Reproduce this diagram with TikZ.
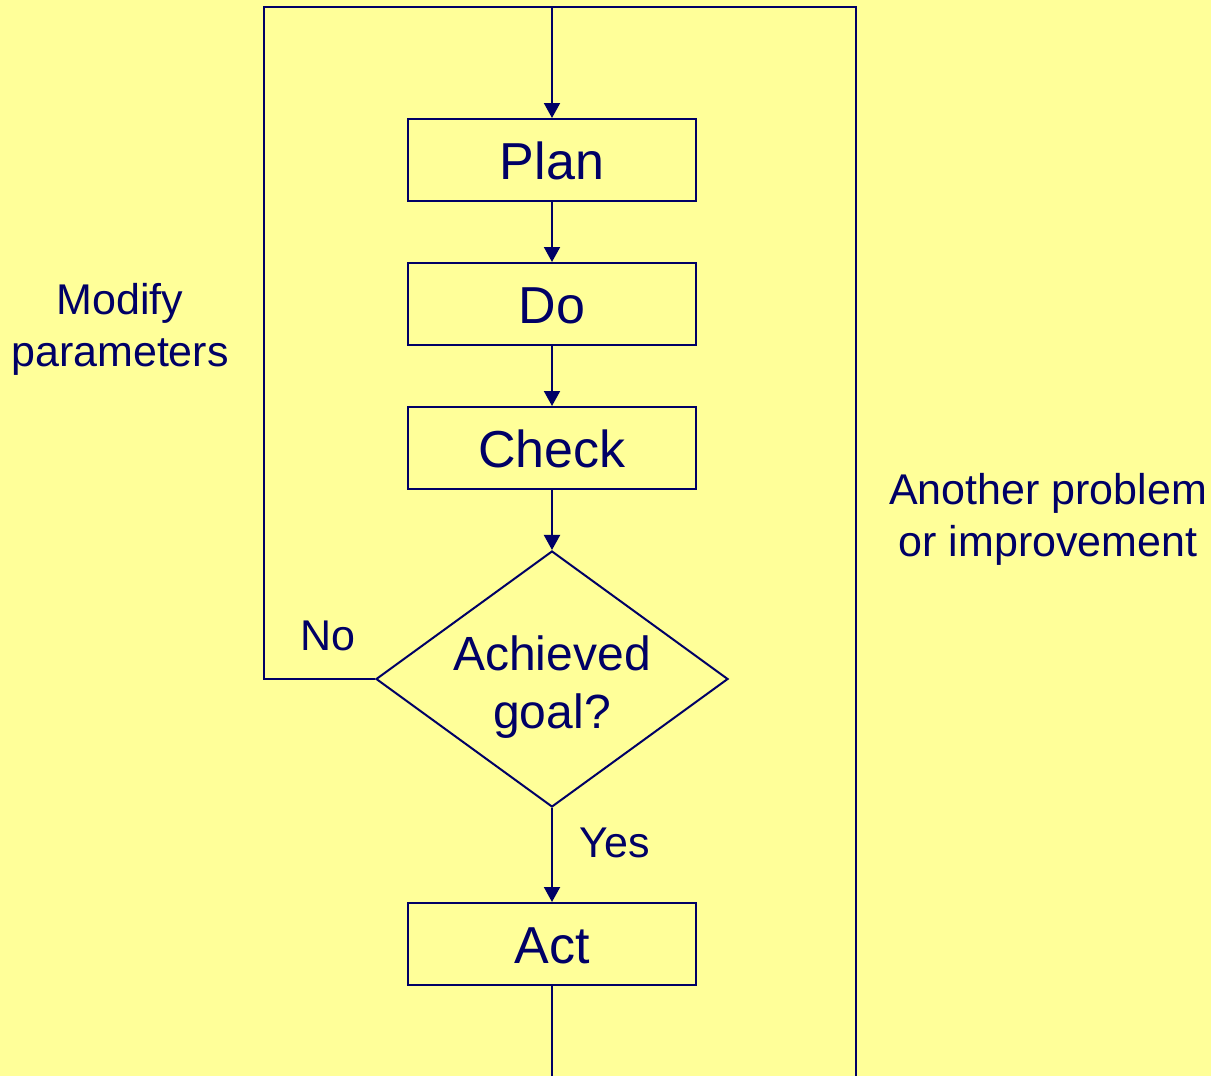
\documentclass[tikz,border=0pt]{standalone}
\usepackage{fontspec}
\setmainfont{Liberation Sans}
\usetikzlibrary{shapes.geometric,arrows.meta}
\definecolor{bg}{RGB}{255,255,153}
\definecolor{ink}{RGB}{0,0,102}
\begin{document}
\begin{tikzpicture}[x=1pt,y=-1pt,line width=2pt,color=ink,
  box/.style={draw=ink, rectangle, minimum width=288pt, minimum height=82pt, inner sep=0pt,
    font=\fontsize{52}{62}\selectfont, text height=39pt, text depth=0pt},
  dia/.style={draw=ink, diamond, minimum width=352pt, minimum height=256pt, inner sep=0pt},
  lbl/.style={inner sep=0pt, font=\fontsize{43}{52}\selectfont, anchor=base},
  dtext/.style={inner sep=0pt, font=\fontsize{48}{58}\selectfont, anchor=base},
  arr/.style={-{Triangle[width=16pt,length=15pt]}}]
\useasboundingbox (0,0) rectangle (1211,1076);
\fill[bg] (0,0) rectangle (1211,1076);
\clip (0,0) rectangle (1211,1076);

\node[box] (plan) at (552,160) {Plan};
\node[box] (do) at (552,304) {Do};
\node[box] (check) at (552,448) {Check};
\node[dia] (goal) at (552,679) {};
\node[dtext] (goal1) at (552,670.5) {Achieved};
\node[dtext] (goal2) at (552,728.5) {goal?};
\node[box] (act) at (552,944) {Act};

\coordinate (top) at (552,7);
\coordinate (tl) at (264,7);
\coordinate (tr) at (856,7);
\coordinate (cl) at (264,679);
\coordinate (br) at (856,1082);
\coordinate (actend) at (552,1082);

\draw[arr] (top) -- (plan.north);
\draw[arr] (plan) -- (do);
\draw[arr] (do) -- (check);
\draw[arr] (check) -- (goal);
\draw[arr] (goal) -- (act);
\draw (act.south) -- (actend);
\draw (goal.west) -- (cl) -- (tl) -- (tr) -- (br);

\node[lbl] (mod1) at (120,314) {Modify};
\node[lbl] (mod2) at (120,366) {parameters};
\node[lbl] (ano1) at (1048,504) {Another problem};
\node[lbl] (ano2) at (1048,556) {or improvement};
\node[lbl] (no) at (328,650) {No};
\node[lbl] (yes) at (615,857) {Yes};
\end{tikzpicture}
\end{document}
